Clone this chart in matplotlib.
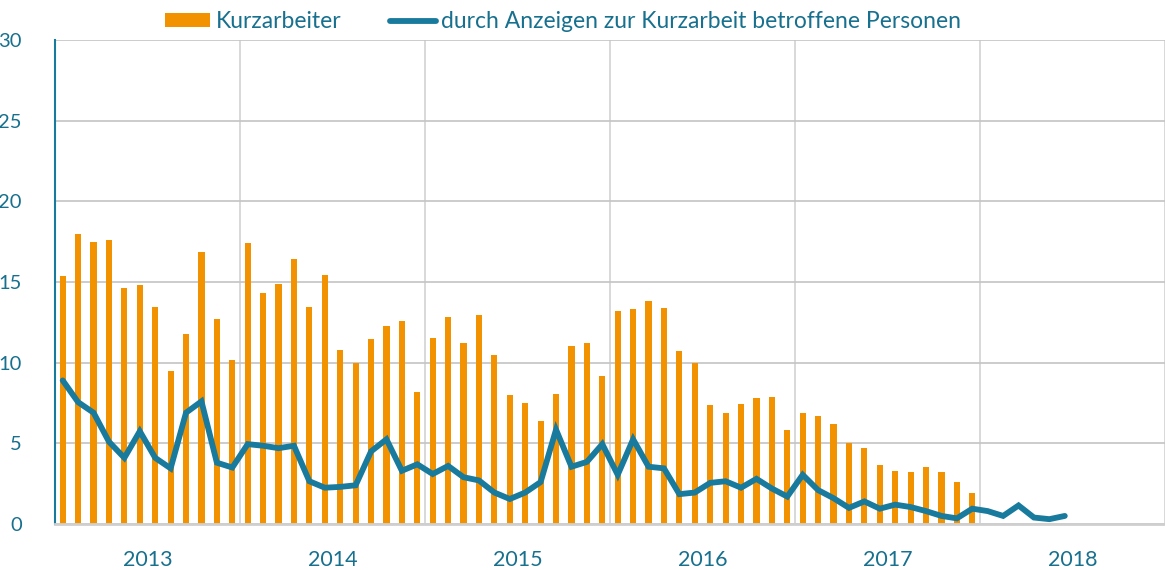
import matplotlib
matplotlib.use("Agg")
import matplotlib.pyplot as plt
from matplotlib.patches import Patch
from matplotlib.lines import Line2D
import numpy as np

# Monthly data, Jan 2013 onwards (values in 10,000 persons)
kurzarbeiter = [
    15.4, 18.0, 17.5, 17.6, 14.6, 14.8, 13.45, 9.5, 11.8, 16.85, 12.7, 10.15,   # 2013
    17.4, 14.3, 14.9, 16.4, 13.45, 15.45, 10.8, 10.0, 11.45, 12.25, 12.6, 8.2,  # 2014
    11.55, 12.8, 11.2, 12.95, 10.45, 8.0, 7.5, 6.4, 8.05, 11.05, 11.25, 9.2,    # 2015
    13.2, 13.35, 13.85, 13.4, 10.75, 10.0, 7.35, 6.9, 7.45, 7.8, 7.9, 5.85,     # 2016
    6.85, 6.7, 6.2, 5.0, 4.7, 3.65, 3.3, 3.2, 3.55, 3.2, 2.6, 1.9,              # 2017
]
anzeigen = [
    8.9, 7.55, 6.9, 5.1, 4.1, 5.75, 4.1, 3.45, 6.9, 7.6, 3.8, 3.5,             # 2013
    4.95, 4.85, 4.7, 4.85, 2.65, 2.25, 2.3, 2.4, 4.5, 5.25, 3.3, 3.7,          # 2014
    3.1, 3.6, 2.9, 2.7, 1.95, 1.55, 1.95, 2.6, 5.85, 3.55, 3.85, 4.95,         # 2015
    3.05, 5.25, 3.55, 3.45, 1.85, 1.95, 2.55, 2.65, 2.25, 2.8, 2.2, 1.7,       # 2016
    3.05, 2.1, 1.6, 1.0, 1.4, 0.95, 1.2, 1.05, 0.8, 0.5, 0.35, 0.95,           # 2017
    0.8, 0.5, 1.15, 0.4, 0.3, 0.5,                                             # 2018
]
years = ["2013", "2014", "2015", "2016", "2017", "2018"]
yticks = [0, 5, 10, 15, 20, 25, 30]

label_bar = "Kurzarbeiter"
label_line = "durch Anzeigen zur Kurzarbeit betroffene Personen"

ORANGE = "#f39200"
BLUE = "#187a9c"
TEXT = "#17708e"
GRID = "#c4c4c4"

plt.rcParams["font.family"] = ["Lato", "DejaVu Sans"]

W, H = 1165, 570
fig = plt.figure(figsize=(W / 100, H / 100), dpi=100)
ax = fig.add_axes([55 / W, (H - 524) / H, (W - 55) / W, (524 - 40) / H])

xb = np.arange(len(kurzarbeiter))
xl = np.arange(len(anzeigen))
ax.bar(xb, kurzarbeiter, width=0.4, color=ORANGE, zorder=2)
ax.plot(xl, anzeigen, color=BLUE, lw=4.2, solid_joinstyle="miter", solid_capstyle="round", zorder=3)

n_months = 12 * len(years)
ax.set_xlim(-0.5, n_months - 0.5)
ax.set_ylim(0, 30)

ax.set_yticks(yticks)
ax.set_yticklabels([str(v) for v in yticks])
ax.set_xticks([12 * i + 5.5 for i in range(len(years))])
ax.set_xticklabels(years)
ax.set_xticks([12 * i + 11.5 for i in range(len(years))], minor=True)

ax.tick_params(axis="both", which="both", length=0, colors=TEXT)
ax.tick_params(axis="y", labelsize=14.5, pad=24)
ax.tick_params(axis="x", labelsize=15.5, pad=19)

ax.grid(axis="y", which="major", color=GRID, lw=1.2, zorder=0)
ax.grid(axis="x", which="minor", color="#d2d2d2", lw=1.2, zorder=0)
ax.grid(axis="x", which="major", visible=False)
ax.set_axisbelow(True)

for s in ["top", "right"]:
    ax.spines[s].set_visible(False)
ax.spines["left"].set_color(BLUE)
ax.spines["left"].set_linewidth(1.5)
ax.spines["bottom"].set_color("#cfcfcf")
ax.spines["bottom"].set_linewidth(2)

handles = [
    Patch(facecolor=ORANGE, edgecolor="none", label=label_bar),
    Line2D([], [], color=BLUE, lw=4.2, solid_capstyle="round", label=label_line),
]
leg = fig.legend(handles=handles, loc="center", bbox_to_anchor=(563 / W, 1 - 22 / H),
                 ncol=2, frameon=False, fontsize=16.5, handlelength=2.0,
                 handleheight=0.55, handletextpad=0.25, columnspacing=2.1,
                 borderpad=0, borderaxespad=0)
for t in leg.get_texts():
    t.set_color(TEXT)

fig.savefig("out.png", dpi=100)
